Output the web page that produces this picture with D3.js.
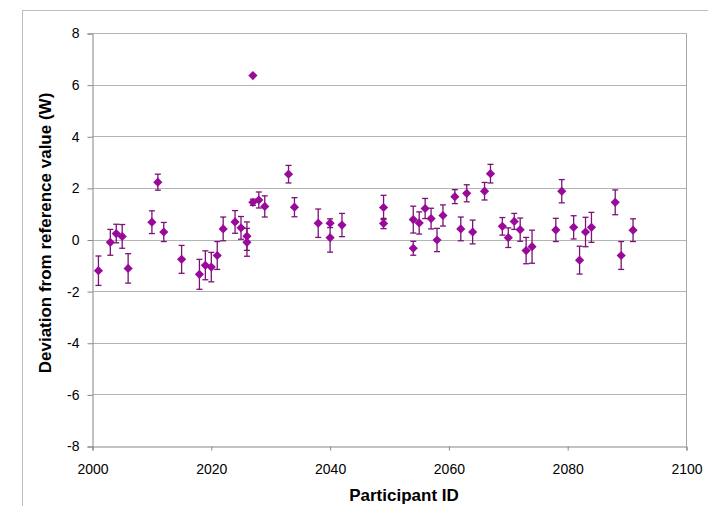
<!DOCTYPE html>
<html>
<head>
<meta charset="utf-8">
<script src="https://cdn.jsdelivr.net/npm/d3@7"></script>
<style>
  body { margin: 0; background: #fff; }
  text { font-family: "Liberation Sans", Arial, sans-serif; }
  .tick text { font-size: 14px; fill: #000; }
  .axis-label { font-size: 17px; font-weight: bold; fill: #000; }
</style>
</head>
<body>
<svg width="708" height="506"></svg>
<script>
(function (d3) {
  'use strict';

  // participant IDs, deviation (W) and uncertainty (+/- W)
  var ids = [2001, 2003, 2004, 2005, 2006, 2010, 2011, 2012, 2015, 2018,
    2019, 2020, 2021, 2022, 2024, 2025, 2026, 2026, 2027, 2027,
    2028, 2029, 2033, 2034, 2038, 2040, 2040, 2042, 2049, 2049,
    2054, 2054, 2055, 2056, 2057, 2058, 2059, 2061, 2062, 2063,
    2064, 2066, 2067, 2069, 2070, 2071, 2072, 2073, 2074, 2078,
    2079, 2081, 2082, 2083, 2084, 2088, 2089, 2091];
  var deviations = [-1.19, -0.09, 0.25, 0.14, -1.1, 0.69, 2.24, 0.31, -0.75, -1.33,
    -0.98, -1.05, -0.6, 0.43, 0.7, 0.47, 0.15, -0.09, 6.37, 1.46,
    1.55, 1.3, 2.55, 1.27, 0.65, 0.65, 0.09, 0.58, 1.26, 0.64,
    -0.32, 0.79, 0.66, 1.22, 0.83, 0.0, 0.95, 1.68, 0.43, 1.81,
    0.31, 1.89, 2.57, 0.53, 0.09, 0.72, 0.4, -0.41, -0.26, 0.39,
    1.89, 0.49, -0.78, 0.31, 0.49, 1.46, -0.6, 0.38];
  var uncertainties = [0.57, 0.5, 0.36, 0.46, 0.57, 0.44, 0.31, 0.37, 0.54, 0.58,
    0.56, 0.57, 0.54, 0.46, 0.44, 0.44, 0.55, 0.54, 0.0, 0.12,
    0.31, 0.41, 0.34, 0.37, 0.55, 0.17, 0.56, 0.45, 0.47, 0.2,
    0.27, 0.52, 0.43, 0.39, 0.4, 0.45, 0.41, 0.27, 0.46, 0.33,
    0.46, 0.34, 0.36, 0.34, 0.38, 0.31, 0.45, 0.51, 0.64, 0.45,
    0.45, 0.45, 0.54, 0.57, 0.58, 0.48, 0.54, 0.44];

  var xTicks = [2000, 2020, 2040, 2060, 2080, 2100];
  var yTicks = [-8, -6, -4, -2, 0, 2, 4, 6, 8];

  var data = ids.map(function (id, i) {
    return { id: id, dev: deviations[i], unc: uncertainties[i] };
  });

  var svg = d3.select("svg");

  // outer chart frame
  svg.append("rect")
    .attr("x", 22.5).attr("y", 10.5)
    .attr("width", 720).attr("height", 520)
    .attr("fill", "none")
    .attr("stroke", "#bdbdbd");

  var margin = { top: 33.5, left: 92.5 };
  var innerWidth = 594;
  var innerHeight = 413;

  var xScale = d3.scaleLinear().domain([2000, 2100]).range([0, innerWidth]);
  var yScale = d3.scaleLinear().domain([-8, 8]).range([innerHeight, 0]);

  var g = svg.append("g")
    .attr("transform", "translate(" + margin.left + "," + margin.top + ")");

  // gridlines
  g.append("g")
    .selectAll("line")
    .data(yTicks.filter(function (d) { return d > -8; }))
    .enter().append("line")
    .attr("x1", 0).attr("x2", innerWidth)
    .attr("y1", function (d) { return Math.round(yScale(d)); })
    .attr("y2", function (d) { return Math.round(yScale(d)); })
    .attr("stroke", "#b4b4b4");

  // right border of plot area
  g.append("line")
    .attr("x1", innerWidth).attr("x2", innerWidth)
    .attr("y1", 0).attr("y2", innerHeight)
    .attr("stroke", "#a6a6a6");

  // axes (plain hyphen for negatives, like the original)
  var fmt = function (d) { return String(d); };
  var xAxis = d3.axisBottom(xScale).tickValues(xTicks).tickSize(4).tickPadding(14).tickFormat(fmt);
  var yAxis = d3.axisLeft(yScale).tickValues(yTicks).tickSize(5).tickPadding(8).tickFormat(fmt);

  var xAxisGroup = g.append("g")
    .attr("transform", "translate(0," + innerHeight + ")")
    .call(xAxis);
  xAxisGroup.select(".domain").attr("stroke", "#868686");
  xAxisGroup.selectAll(".tick line").attr("stroke", "#868686");

  var yAxisGroup = g.append("g").call(yAxis);
  yAxisGroup.select(".domain").attr("stroke", "#868686");
  yAxisGroup.selectAll(".tick line").attr("stroke", "#868686");

  // axis titles
  svg.append("text")
    .attr("class", "axis-label")
    .attr("transform", "translate(51,233) rotate(-90)")
    .attr("text-anchor", "middle")
    .text("Deviation from reference value (W)");

  svg.append("text")
    .attr("class", "axis-label")
    .attr("x", 404)
    .attr("y", 501)
    .attr("text-anchor", "middle")
    .text("Participant ID");

  // error bars
  var bars = g.append("g").selectAll("g")
    .data(data.filter(function (d) { return d.unc > 0; }))
    .enter().append("g")
    .attr("stroke", "#7a1277")
    .attr("stroke-width", 1.3);

  bars.append("line")
    .attr("x1", function (d) { return xScale(d.id); })
    .attr("x2", function (d) { return xScale(d.id); })
    .attr("y1", function (d) { return yScale(d.dev + d.unc); })
    .attr("y2", function (d) { return yScale(d.dev - d.unc); });

  [1, -1].forEach(function (s) {
    bars.append("line")
      .attr("x1", function (d) { return xScale(d.id) - 3; })
      .attr("x2", function (d) { return xScale(d.id) + 3; })
      .attr("y1", function (d) { return yScale(d.dev + s * d.unc); })
      .attr("y2", function (d) { return yScale(d.dev + s * d.unc); });
  });

  // diamond markers
  g.append("g").selectAll("path")
    .data(data)
    .enter().append("path")
    .attr("d", "M0,-4.6L4.6,0L0,4.6L-4.6,0Z")
    .attr("transform", function (d) {
      return "translate(" + xScale(d.id) + "," + yScale(d.dev) + ")";
    })
    .attr("fill", "#9a0a9a");

}(d3));
</script>
</body>
</html>
